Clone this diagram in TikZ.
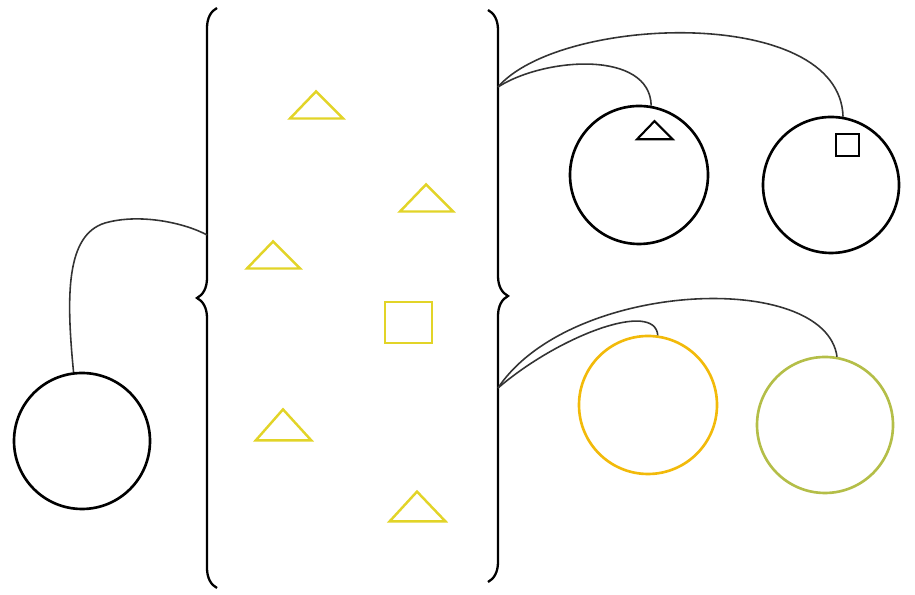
\documentclass[tikz,border=0pt]{standalone}
\usetikzlibrary{decorations.pathreplacing, calc}
\definecolor{setyellow}{RGB}{226,212,40}
\definecolor{ballorange}{RGB}{242,186,10}
\definecolor{ballgreen}{RGB}{180,190,72}
\tikzset{
  tri/.pic = {
    \draw (-0.26,-0.13) -- (0,0.14) -- (0.27,-0.13) -- cycle;
  },
  ball/.style = {draw, circle, inner sep=0pt, minimum size=1.36cm, line width=0.75pt},
  string/.style = {line width=0.45pt, color=black!80},
  setbrace/.style = {decorate, decoration={brace, amplitude=0.2cm}, line width=0.65pt}
}

\begin{document}
\begin{tikzpicture}
  \useasboundingbox (0,0) rectangle (9.15,5.95);

  % the set
  \draw[setbrace] (2.17,0.07) -- (2.17,5.87);
  \draw[setbrace] (4.88,5.85) -- (4.88,0.13);
  \coordinate (lb1) at (2.07,3.60);
  \coordinate (rb1) at (4.98,5.08);
  \coordinate (rb2) at (4.98,2.07);

  \pic[color=setyellow, line width=0.7pt] at (3.16,4.895) {tri};
  \pic[color=setyellow, line width=0.7pt] at (4.26,3.965) {tri};
  \pic[color=setyellow, line width=0.7pt] at (2.73,3.395) {tri};
  \pic[color=setyellow, line width=0.7pt, xscale=1.05, yscale=1.15] at (2.83,1.695) {tri};
  \pic[color=setyellow, line width=0.7pt, xscale=1.05, yscale=1.1] at (4.17,0.88) {tri};
  \node[draw=setyellow, line width=0.7pt, minimum width=0.47cm, minimum height=0.41cm, inner sep=0pt] (sq) at (4.085,2.725) {};

  % balls
  \node[ball] (lc) at (0.82,1.54) {};
  \node[ball, minimum size=1.38cm] (c1) at (6.39,4.20) {};
  \node[ball] (c2) at (8.31,4.10) {};
  \node[ball, draw=ballorange, minimum size=1.38cm] (c3) at (6.48,1.90) {};
  \node[ball, draw=ballgreen] (c4) at (8.25,1.70) {};
  \pic[line width=0.6pt, scale=0.67] at (6.545,4.645) {tri};
  \node[draw, line width=0.6pt, minimum width=0.23cm, minimum height=0.22cm, inner sep=0pt] (sq2) at (8.475,4.50) {};

  % strings
  \draw[string] (lc.97) .. controls (0.66,3.0) and (0.66,3.6) .. (1.05,3.72)
    .. controls (1.4,3.82) and (1.85,3.72) .. (lb1);
  \draw[string] (rb1) .. controls (5.45,5.38) and (6.5,5.45) .. (c1.80);
  \draw[string] (rb1) .. controls (5.6,5.8) and (8.4,5.9) .. (c2.80);
  \draw[string] (rb2) .. controls (5.6,2.6) and (6.55,2.95) .. (c3.82);
  \draw[string] (rb2) .. controls (5.7,3.15) and (8.25,3.25) .. (c4.80);
\end{tikzpicture}
\end{document}
